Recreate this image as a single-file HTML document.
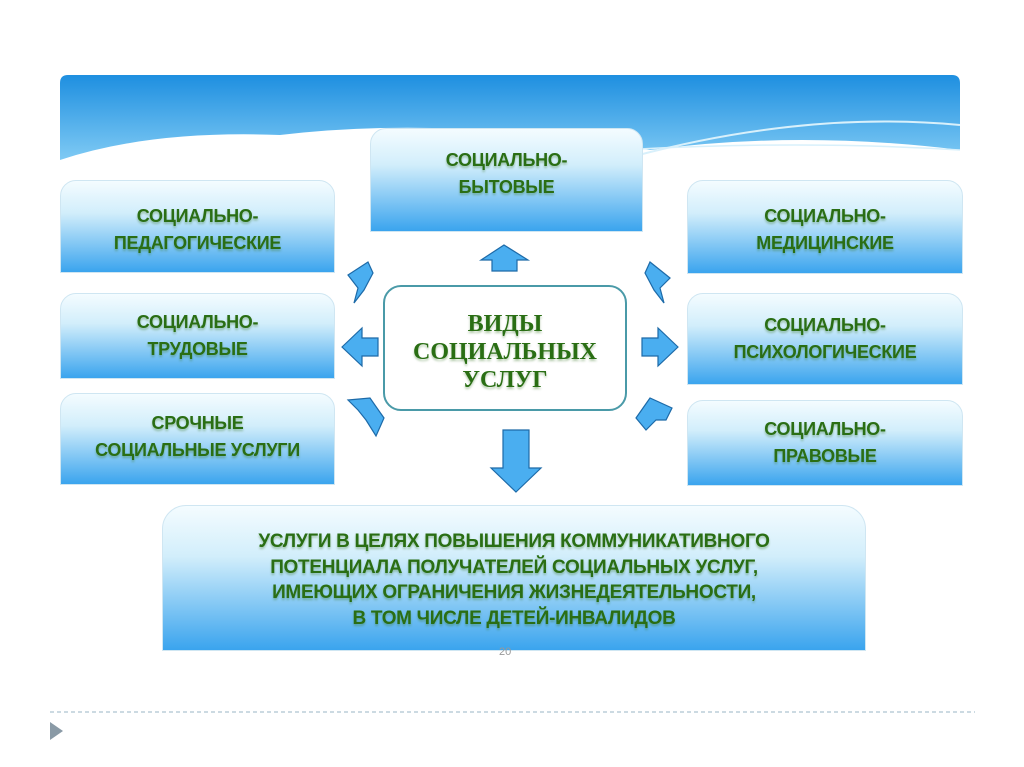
<!DOCTYPE html>
<html><head><meta charset="utf-8"><style>
body{margin:0;width:1024px;height:767px;background:#fff;position:relative;overflow:hidden;font-family:"Liberation Sans",sans-serif}
.b{position:absolute;border-radius:16px 16px 0 0;background:linear-gradient(#f4fcff 0%,#d2eefb 35%,#3aa4ee 100%);border:1px solid #cfe6f2;display:flex;align-items:center;justify-content:center;text-align:center;color:#2a6e14;font-weight:bold;font-size:18px;line-height:27px;text-shadow:0 2px 2px rgba(60,120,40,.4);box-sizing:border-box;letter-spacing:-0.3px}
</style></head><body>
<svg width="1024" height="767" style="position:absolute;left:0;top:0">
<defs><linearGradient id="g" x1="0" y1="0" x2="0" y2="1"><stop offset="0" stop-color="#1e8fe0"/><stop offset="1" stop-color="#7fcaf4"/></linearGradient></defs>
<path d="M68,75 H952 Q960,75 960,83 V150 Q800,130 650,150 Q450,115 280,135 Q150,130 60,160 V83 Q60,75 68,75Z" fill="url(#g)"/>
<path d="M620,160 Q800,110 960,125" stroke="#d8f0fb" stroke-width="2" fill="none"/>
<path d="M620,150 Q800,140 960,150" stroke="#d8f0fb" stroke-width="1.5" fill="none"/>
<g fill="#4aaef0" stroke="#1d6aa8" stroke-width="1.2">
<polygon points="504,245 528,260 517,260 517,271 492,271 492,260 481,260"/>
<polygon points="348,275 368,262 373,273 364,290 354,303 358,288"/>
<polygon points="342,347 362,328 362,338 378,338 378,356 362,356 362,366"/>
<polygon points="348,400 370,398 384,418 376,436 366,420 358,410"/>
<polygon points="670,278 650,262 645,273 654,290 664,303 660,288"/>
<polygon points="678,347 658,328 658,338 642,338 642,356 658,356 658,366"/>
<polygon points="672,408 650,398 636,418 646,430 656,420 666,420"/>
<polygon points="516,492 541,468 529,468 529,430 503,430 503,468 491,468"/>
<line x1="50" y1="712" x2="975" y2="712" stroke="#9ab4c4" stroke-dasharray="4,3" stroke-width="1" fill="none"/>
</g>
<polygon points="50,722 63,731 50,740" fill="#8a9aa6"/>
</svg>
<div class="b" style="left:370px;top:128px;width:273px;height:104px;padding-bottom:12px">СОЦИАЛЬНО-<br>БЫТОВЫЕ</div>
<div class="b" style="left:60px;top:180px;width:275px;height:93px;padding-top:6px">СОЦИАЛЬНО-<br>ПЕДАГОГИЧЕСКИЕ</div>
<div class="b" style="left:60px;top:293px;width:275px;height:86px">СОЦИАЛЬНО-<br>ТРУДОВЫЕ</div>
<div class="b" style="left:60px;top:393px;width:275px;height:92px;padding-bottom:4px">СРОЧНЫЕ<br>СОЦИАЛЬНЫЕ УСЛУГИ</div>
<div class="b" style="left:687px;top:180px;width:276px;height:94px;padding-top:6px">СОЦИАЛЬНО-<br>МЕДИЦИНСКИЕ</div>
<div class="b" style="left:687px;top:293px;width:276px;height:92px">СОЦИАЛЬНО-<br>ПСИХОЛОГИЧЕСКИЕ</div>
<div class="b" style="left:687px;top:400px;width:276px;height:86px">СОЦИАЛЬНО-<br>ПРАВОВЫЕ</div>
<div class="b" style="left:162px;top:505px;width:704px;height:146px;border-radius:24px 24px 0 0;font-size:19px;line-height:25.5px;padding-top:4px">УСЛУГИ В ЦЕЛЯХ ПОВЫШЕНИЯ КОММУНИКАТИВНОГО<br>ПОТЕНЦИАЛА ПОЛУЧАТЕЛЕЙ СОЦИАЛЬНЫХ УСЛУГ,<br>ИМЕЮЩИХ ОГРАНИЧЕНИЯ ЖИЗНЕДЕЯТЕЛЬНОСТИ,<br>В ТОМ ЧИСЛЕ ДЕТЕЙ-ИНВАЛИДОВ</div>
<div style="position:absolute;left:383px;top:285px;width:244px;height:126px;box-sizing:border-box;border:2px solid #4a9aa8;border-radius:18px;background:#fff;display:flex;align-items:center;justify-content:center;text-align:center;font-family:'Liberation Serif',serif;font-weight:bold;font-size:24px;line-height:28px;color:#2a6e14;text-shadow:0 2px 2px rgba(60,120,40,.4);padding-top:8px">ВИДЫ<br>СОЦИАЛЬНЫХ<br>УСЛУГ</div>
<div style="position:absolute;left:499px;top:646px;font-size:11px;color:#999">20</div>
</body></html>
